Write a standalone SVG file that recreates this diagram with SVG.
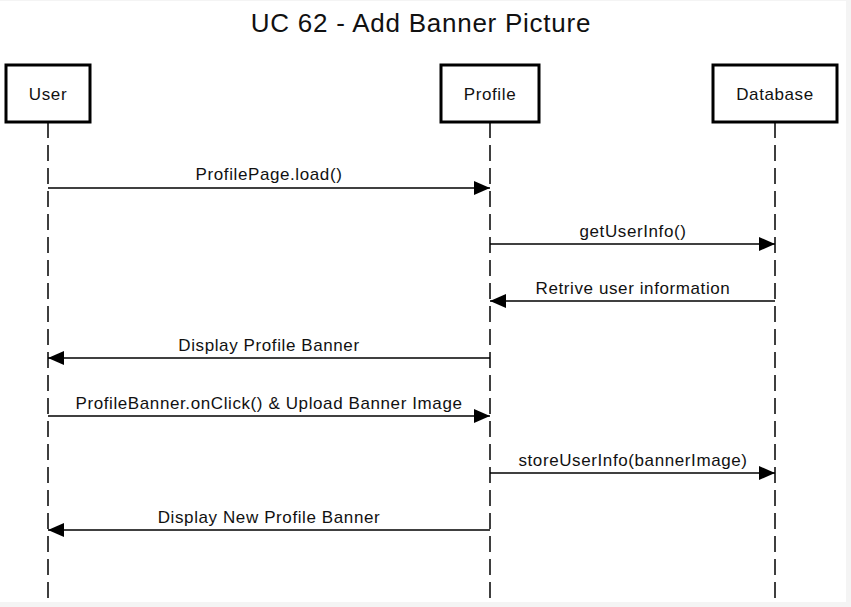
<svg xmlns="http://www.w3.org/2000/svg" width="851" height="607" viewBox="0 0 851 607">
<defs>
<style>
.box{fill:#fff;stroke:#000;stroke-width:3}
.lbl{font-family:"Liberation Sans",Arial,sans-serif;font-size:17px;letter-spacing:0.6px;fill:#111;text-anchor:middle}
.life{stroke:#000;stroke-width:1.5;stroke-dasharray:16 7;fill:none}
.msg{stroke:#000;stroke-width:1.5;fill:none;marker-end:url(#ah)}
.ml{font-family:"Liberation Sans",Arial,sans-serif;font-size:17px;letter-spacing:0.6px;fill:#111;text-anchor:middle}
</style>
<marker id="ah" viewBox="0 0 16 14" refX="16" refY="7" markerWidth="16" markerHeight="14" markerUnits="userSpaceOnUse" orient="auto">
<path d="M0,0 L16,7 L0,14 Z" fill="#000"/>
</marker>
</defs>
<rect x="0" y="0" width="851" height="607" fill="#f4f4f4"/>
<rect x="0" y="1" width="846" height="601" fill="#fff"/>
<text x="421" y="32" font-family="'Liberation Sans',Arial,sans-serif" font-size="26" letter-spacing="0.75" text-anchor="middle" fill="#111">UC 62 - Add Banner Picture</text>
<g id="lifelines">
<line class="life" x1="48" y1="122" x2="48" y2="602"/>
<line class="life" x1="490" y1="122" x2="490" y2="602"/>
<line class="life" x1="775" y1="122" x2="775" y2="602"/>
</g>
<g id="user"><rect class="box" x="6" y="65" width="84" height="57"/><text class="lbl" x="48" y="100">User</text></g>
<g id="profile"><rect class="box" x="441" y="65" width="98" height="57"/><text class="lbl" x="490" y="100">Profile</text></g>
<g id="database"><rect class="box" x="713" y="65" width="124" height="57"/><text class="lbl" x="775" y="100">Database</text></g>
<g id="connectors">
<line class="msg" x1="48" y1="188" x2="490" y2="188"/>
<text class="ml" x="269" y="180">ProfilePage.load()</text>
<line class="msg" x1="490" y1="244" x2="775" y2="244"/>
<text class="ml" x="633" y="237">getUserInfo()</text>
<line class="msg" x1="775" y1="301" x2="490" y2="301"/>
<text class="ml" x="633" y="294">Retrive user information</text>
<line class="msg" x1="490" y1="358" x2="48" y2="358"/>
<text class="ml" x="269" y="351">Display Profile Banner</text>
<line class="msg" x1="48" y1="416" x2="490" y2="416"/>
<text class="ml" x="269" y="409">ProfileBanner.onClick() &amp; Upload Banner Image</text>
<line class="msg" x1="490" y1="473" x2="775" y2="473"/>
<text class="ml" x="633" y="466">storeUserInfo(bannerImage)</text>
<line class="msg" x1="490" y1="530" x2="48" y2="530"/>
<text class="ml" x="269" y="523">Display New Profile Banner</text>
</g>
</svg>
